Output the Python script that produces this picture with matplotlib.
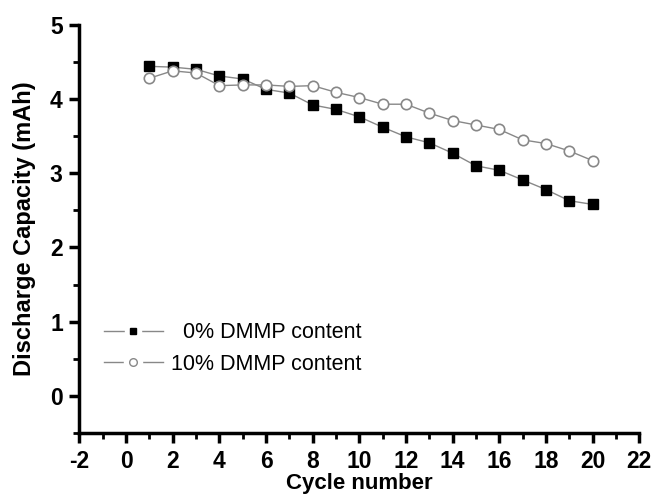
import matplotlib
matplotlib.use("Agg")
import matplotlib.pyplot as plt
from matplotlib.ticker import MultipleLocator
from matplotlib.lines import Line2D
from matplotlib.legend_handler import HandlerTuple

plt.rcParams['font.family'] = ['Liberation Sans', 'DejaVu Sans']
plt.rcParams['axes.unicode_minus'] = False

cycles = list(range(1, 21))
cap_0 = [4.44, 4.43, 4.40, 4.31, 4.27, 4.13, 4.08, 3.92, 3.86, 3.76,
         3.62, 3.49, 3.41, 3.27, 3.10, 3.04, 2.91, 2.78, 2.63, 2.58]
cap_10 = [4.28, 4.38, 4.35, 4.18, 4.19, 4.19, 4.17, 4.18, 4.09, 4.02,
          3.93, 3.93, 3.81, 3.71, 3.65, 3.59, 3.45, 3.40, 3.30, 3.17]
labels = ["  0% DMMP content", "10% DMMP content"]

fig = plt.figure(figsize=(6.51, 4.96), dpi=100)
ax = fig.add_axes([0.122, 0.127, 0.860, 0.823])

ax.plot(cycles, cap_0, color='#888888', lw=1.0, marker='s', ms=6.5,
        mfc='black', mec='black')
ax.plot(cycles, cap_10, color='#888888', lw=1.0, marker='o', ms=7.5,
        mfc='white', mec='#888888', mew=1.2)

ax.set_xlim(-2, 22)
ax.set_ylim(-0.5, 5)
ax.xaxis.set_major_locator(MultipleLocator(2))
ax.xaxis.set_minor_locator(MultipleLocator(1))
ax.yaxis.set_major_locator(MultipleLocator(1))
ax.yaxis.set_minor_locator(MultipleLocator(0.5))

for s in ['top', 'right']:
    ax.spines[s].set_visible(False)
for s in ['left', 'bottom']:
    ax.spines[s].set_linewidth(2.5)

ax.tick_params(which='major', direction='out', length=7, width=2.5,
               labelsize=16.5, pad=5)
ax.tick_params(which='minor', direction='out', length=4, width=2)
for lab in ax.get_xticklabels() + ax.get_yticklabels():
    lab.set_fontweight('bold')

ax.set_xlabel("Cycle number", fontsize=16, fontweight='bold', labelpad=0.5)
ax.set_ylabel("Discharge Capacity (mAh)", fontsize=17, fontweight='bold', labelpad=10)

# legend proxies: line with a white gap around the small marker
sq_gap = Line2D([], [], color='#888888', lw=1.0, marker='s', ms=12,
                mfc='white', mec='white')
sq_mk = Line2D([], [], ls='none', marker='s', ms=5, mfc='black', mec='black')
ci_gap = Line2D([], [], color='#888888', lw=1.0, marker='o', ms=13,
                mfc='white', mec='white')
ci_mk = Line2D([], [], ls='none', marker='o', ms=5.5, mfc='white', mec='#888888', mew=1.0)

leg = ax.legend([(sq_gap, sq_mk), (ci_gap, ci_mk)], labels,
                handler_map={tuple: HandlerTuple(ndivide=1, pad=0)},
                loc='lower left', bbox_to_anchor=(0.009, 0.095), frameon=False,
                fontsize=15.5, handlelength=2.75, handletextpad=0.35,
                labelspacing=0.5)

fig.savefig("out.png", dpi=100)
